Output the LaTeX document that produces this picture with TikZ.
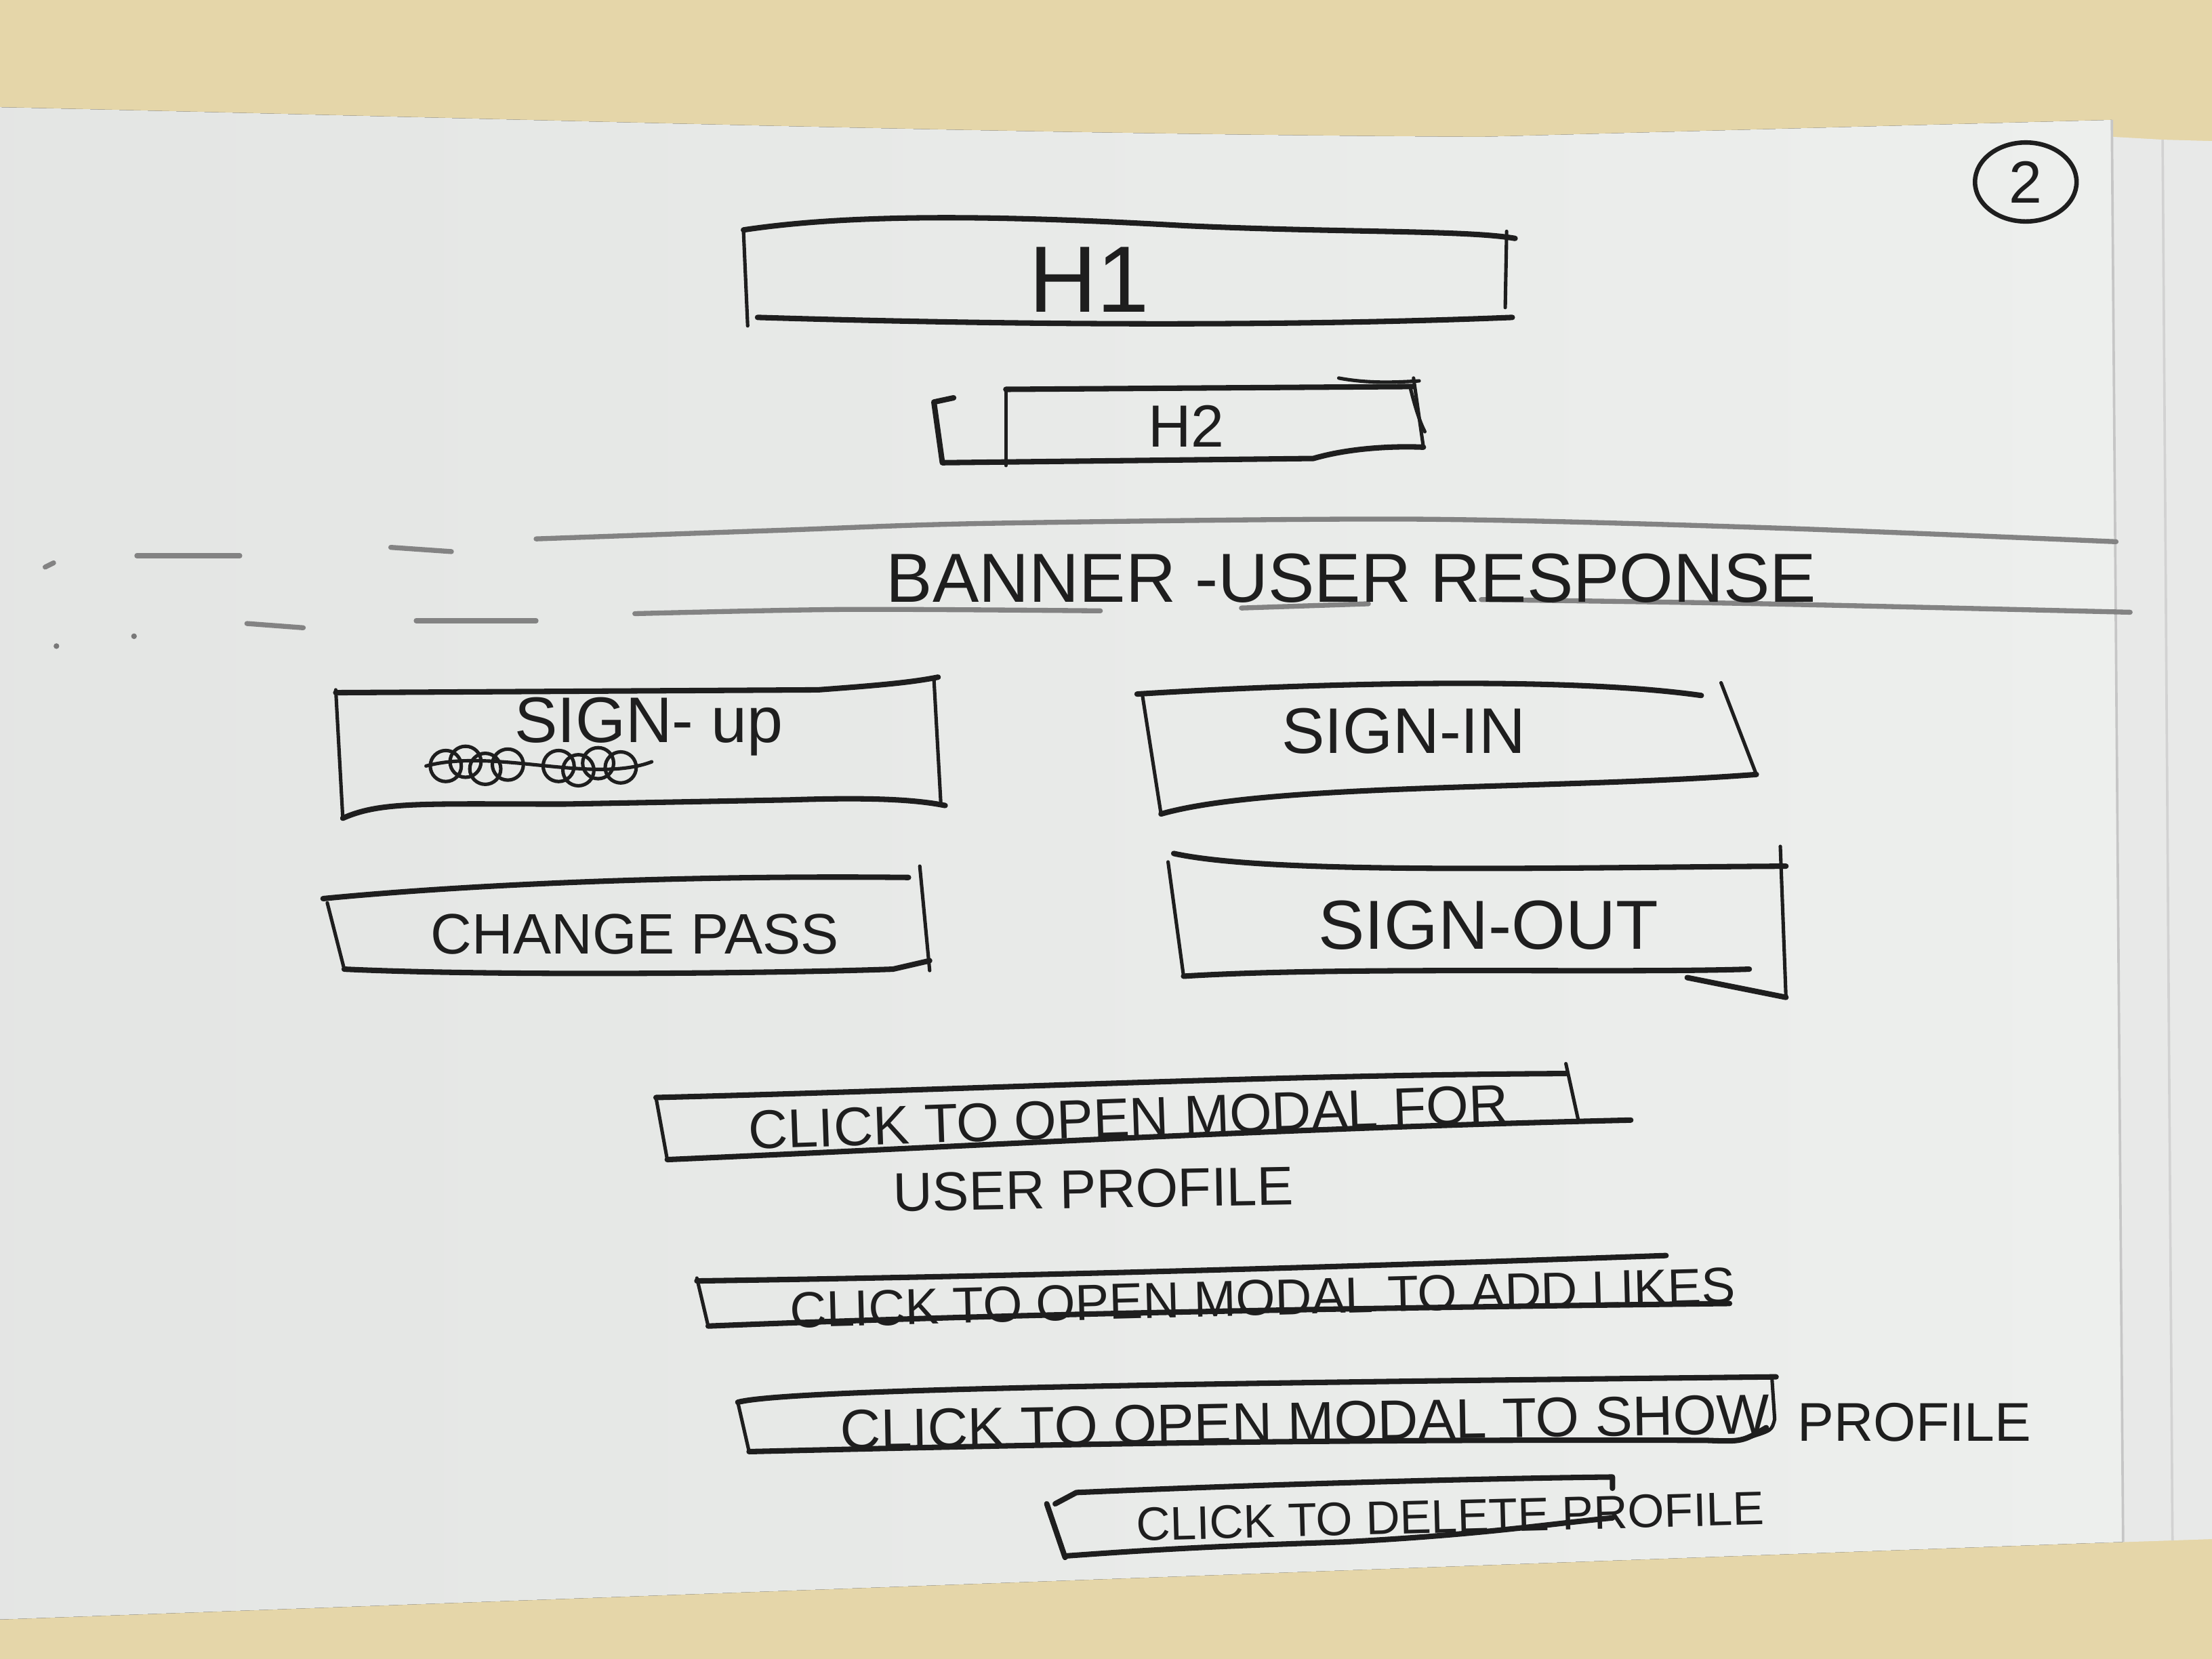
\documentclass[tikz,border=0pt]{standalone}
\usepackage{fontspec}
\setmainfont{Liberation Sans}
\usetikzlibrary{positioning}
\definecolor{desk}{HTML}{E5D6A9}
\definecolor{sheet}{HTML}{EDEFED}
\definecolor{ink}{HTML}{1E1E1E}
\newcommand{\penpt}[1]{\fontsize{#1}{#1}\selectfont}

\begin{document}
\begin{tikzpicture}[x=0.01cm,y=-0.01cm,
    pen/.style={draw=ink,line width=1.1pt,line cap=round,line join=round},
    fine pen/.style={draw=ink,line width=.7pt,line cap=round},
    faint pen/.style={draw=ink!55,line width=1pt,line cap=round},
    scrawl/.style={text=ink,inner sep=0pt}]
\useasboundingbox (0,0) rectangle (1568,1176);
\fill[desk] (0,0) rectangle (1568,1176);
% paper stack
\fill[sheet!95!gray] (1480,96) -- (1533,99) -- (1568,100) -- (1568,1091) -- (1480,1094) -- cycle;
\fill[left color=sheet!96!black,right color=sheet] (0,76) .. controls (400,85) and (700,95) .. (1050,97)
    -- (1497,85) -- (1505,1093) -- (0,1148) -- cycle;
\draw[gray!45,line width=.5pt] (1497,85) -- (1505,1093);
\draw[gray!35,line width=.5pt] (1533,99) -- (1540,1092);

% page number
\node[scrawl,font=\penpt{12}] (num) at (1436,129) {2};
\draw[pen,line width=.9pt] (num) ellipse [x radius=36,y radius=28];

% H1
\draw[pen] (527,163) .. controls (600,152) and (700,152) .. (840,160) .. controls (950,165) and (1040,163) .. (1074,169);
\draw[fine pen] (527,163) -- (530,231);
\draw[fine pen] (1068,164) -- (1067,218);
\draw[pen] (537,225) .. controls (700,230) and (900,232) .. (1072,225);
\node[scrawl,font=\penpt{19}] (h1) at (772,198) {H1};

% H2
\draw[pen] (676,282) -- (662,285) -- (668,328) -- (931,325) .. controls (955,318) and (985,316) .. (1009,317);
\draw[fine pen] (713,276) -- (713,330);
\draw[pen] (713,276) -- (1002,274);
\draw[fine pen] (949,268) .. controls (970,272) and (990,271) .. (1006,270);
\draw[fine pen] (1002,268) -- (1009,317);
\draw[fine pen] (1000,276) .. controls (1004,292) and (1007,300) .. (1010,306);
\node[scrawl,font=\penpt{12}] (h2) at (841,302) {H2};

% banner
\draw[faint pen] (32,402) -- (38,399);
\draw[faint pen] (97,394) -- (170,394);
\draw[faint pen] (277,388) -- (320,391);
\draw[faint pen] plot[smooth] coordinates {(380,382) (550,376) (700,371) (1000,368) (1250,374) (1500,384)};
\draw[faint pen] (175,442) -- (215,445);
\draw[faint pen] (295,440) -- (380,440);
\draw[faint pen] plot[smooth] coordinates {(450,435) (600,432) (780,433)};
\draw[faint pen] (880,431) -- (970,428);
\draw[faint pen] plot[smooth] coordinates {(1050,425) (1250,428) (1510,434)};
\fill[ink!60] (95,451) circle[radius=2] (40,458) circle[radius=2];
\node[scrawl,font=\penpt{14}] (banner) at (958,410) {BANNER -USER RESPONSE};

% sign-up
\draw[pen] (238,491) -- (580,489) .. controls (620,486) and (645,484) .. (665,480);
\draw[fine pen] (662,481) -- (667,571);
\draw[fine pen] (238,489) -- (243,580);
\draw[pen] (243,580) .. controls (270,568) and (300,570) .. (400,570) -- (560,567) .. controls (620,565) and (650,567) .. (670,571);
\node[scrawl,font=\penpt{13}] (signup) at (460,515) {SIGN- up};
\foreach \cx/\cy in {316/543,330/540,344/545,360/542,396/543,410/546,424/541,440/544}
  \draw[fine pen] (\cx,\cy) circle[radius=11];
\draw[fine pen] (302,543) .. controls (350,530) and (420,556) .. (462,540);

% sign-in
\draw[pen] (806,492) .. controls (900,486) and (1100,478) .. (1206,493);
\draw[fine pen] (1220,484) -- (1245,549);
\draw[fine pen] (810,494) -- (823,577);
\draw[pen] (823,577) .. controls (900,555) and (1100,560) .. (1245,549);
\node[scrawl,font=\penpt{13}] (signin) at (995,518) {SIGN-IN};

% change pass
\draw[pen] (229,637) .. controls (300,630) and (450,620) .. (644,622);
\draw[fine pen] (652,614) -- (659,688);
\draw[fine pen] (232,640) -- (244,687);
\draw[pen] (244,687) .. controls (350,692) and (550,690) .. (633,687) -- (659,681);
\node[scrawl,font=\penpt{11.5}] (chpass) at (450,662) {CHANGE PASS};

% sign-out
\draw[pen] (832,605) .. controls (900,620) and (1100,615) .. (1266,614);
\draw[fine pen] (1262,600) -- (1266,707);
\draw[fine pen] (828,611) -- (839,692);
\draw[pen] (839,692) .. controls (950,685) and (1150,690) .. (1240,687);
\draw[pen] (1196,693) -- (1266,707);
\node[scrawl,font=\penpt{14}] (signout) at (1055,656) {SIGN-OUT};

% profile modal
\draw[fine pen] (465,778) -- (473,822);
\draw[pen] (465,778) .. controls (700,772) and (900,762) .. (1110,761);
\draw[fine pen] (1110,754) -- (1119,795);
\draw[pen] (473,822) .. controls (700,812) and (900,800) .. (1156,794);
\node[scrawl,font=\penpt{11},rotate=2] (modal1) at (800,792) {CLICK TO OPEN MODAL FOR};
\node[scrawl,font=\penpt{11},rotate=1] (modal1b) at (775,843) {USER PROFILE};

% likes modal
\draw[fine pen] (494,906) -- (502,940);
\draw[pen] (494,908) .. controls (700,905) and (900,900) .. (1181,890);
\draw[pen] (502,940) .. controls (700,932) and (900,928) .. (1226,924);
\node[scrawl,font=\penpt{10.2},rotate=1.5] (modal2) at (895,920) {CLICK TO OPEN MODAL TO ADD LIKES};

% show modal
\draw[fine pen] (523,994) -- (531,1029);
\draw[pen] (523,994) .. controls (560,984) and (900,980) .. (1259,976);
\draw[fine pen] (1256,976) -- (1258,1006) .. controls (1256,1014) .. (1240,1019);
\draw[pen] (531,1029) .. controls (700,1025) and (900,1020) .. (1209,1021) .. controls (1235,1022) .. (1252,1012);
\node[scrawl,font=\penpt{11.3},rotate=1] (modal3) at (925,1008) {CLICK TO OPEN MODAL TO SHOW};
\node[scrawl,font=\penpt{11}] (modal3b) at (1357,1008) {PROFILE};

% delete
\draw[pen] (742,1066) -- (755,1104);
\draw[pen] (748,1066) -- (763,1058) .. controls (900,1052) and (1050,1048) .. (1143,1047) -- (1143,1055);
\draw[pen] (755,1103) .. controls (850,1096) and (900,1095) .. (953,1093) .. controls (1050,1088) and (1100,1080) .. (1143,1076);
\node[scrawl,font=\penpt{9.5},rotate=1.5] (delete) at (1028,1075) {CLICK TO DELETE PROFILE};
\end{tikzpicture}
\end{document}
